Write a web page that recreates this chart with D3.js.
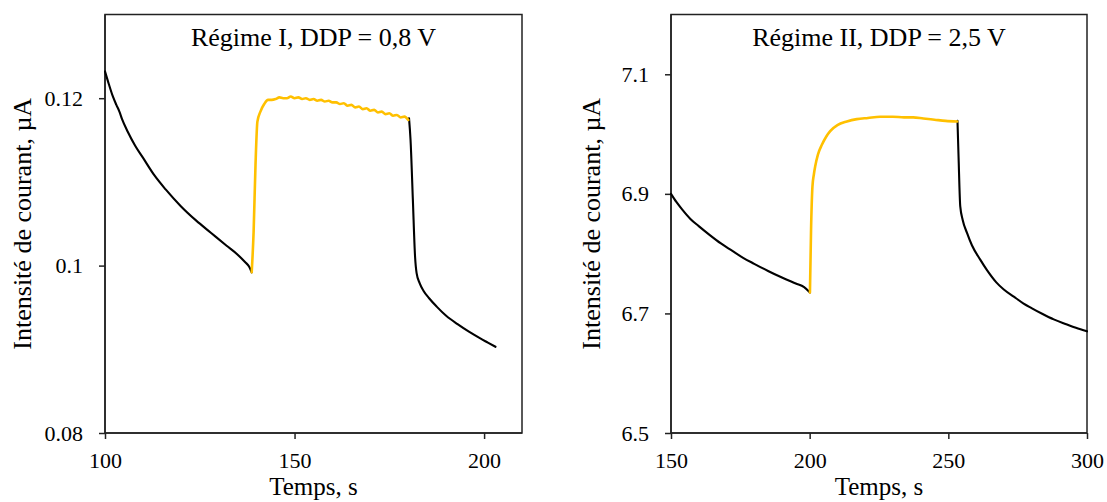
<!DOCTYPE html>
<html>
<head>
<meta charset="utf-8">
<script src="https://cdn.jsdelivr.net/npm/d3@7"></script>
<style>
  html, body { margin: 0; padding: 0; background: #fff; }
  svg { display: block; }
</style>
</head>
<body>
<svg id="chart" width="1107" height="502"></svg>
<script>
// ---------- Data ----------
// Panel 1 : Régime I, DDP = 0,8 V
const p1Title = "Régime I, DDP = 0,8 V";
const p1XTicks = [100, 150, 200];
const p1YTicks = [0.08, 0.1, 0.12];
const p1YLabels = ["0.08", "0.1", "0.12"];
const p1BlackA = [
  [100, 0.1232], [101, 0.1217], [102, 0.1203], [103, 0.1192], [103.8, 0.1184],
  [104.5, 0.1175], [106, 0.1160], [108, 0.1143], [110, 0.1129], [113, 0.1108],
  [116, 0.1091], [120, 0.1071], [124, 0.1054], [128, 0.1039], [132, 0.1024],
  [135, 0.1013], [137, 0.1004], [138, 0.0999], [138.7, 0.0992]
];
const p1Yellow = [
  [138.7, 0.0992], [139.2, 0.1040], [139.7, 0.1120], [140.2, 0.1172], [141, 0.1184],
  [142, 0.1193], [143, 0.1198], [144, 0.1198], [145, 0.1199], [146, 0.1201],
  [147, 0.1200], [148, 0.1200], [149, 0.1202], [150, 0.1200], [151, 0.1201],
  [152, 0.1199], [153, 0.1200], [154, 0.1198], [155, 0.1199], [156, 0.1197],
  [157, 0.1198], [158, 0.1196], [159, 0.1197], [160, 0.1195], [161, 0.1195],
  [162, 0.1193], [163, 0.1194], [164, 0.1191], [165, 0.1192], [166, 0.1189],
  [167, 0.1190], [168, 0.1187], [169, 0.1188], [170, 0.1185], [171, 0.1186],
  [172, 0.1183], [173, 0.1184], [174, 0.1181], [175, 0.1182], [176, 0.1179],
  [177, 0.1180], [178, 0.1177], [179, 0.1178], [180, 0.1174]
];
const p1BlackB = [
  [180.2, 0.1176], [180.6, 0.1150], [181.2, 0.1080], [181.8, 0.1010], [182.2, 0.0991],
  [183, 0.0979], [184, 0.0970], [185.5, 0.0961], [187.5, 0.0951], [190, 0.0940],
  [193, 0.0930], [196, 0.0921], [199, 0.0913], [201, 0.0908], [203, 0.0903]
];

// Panel 2 : Régime II, DDP = 2,5 V
const p2Title = "Régime II, DDP = 2,5 V";
const p2XTicks = [150, 200, 250, 300];
const p2YTicks = [6.5, 6.7, 6.9, 7.1];
const p2YLabels = ["6.5", "6.7", "6.9", "7.1"];
const p2BlackA = [
  [150, 6.900], [152, 6.886], [154, 6.874], [157, 6.858], [160, 6.846],
  [164, 6.831], [168, 6.817], [172, 6.805], [176, 6.793], [180, 6.783],
  [185, 6.771], [190, 6.760], [195, 6.750], [198, 6.744], [200.1, 6.735]
];
const p2Yellow = [
  [200.1, 6.735], [200.5, 6.840], [201, 6.912], [201.5, 6.932], [202, 6.946],
  [203, 6.966], [204.4, 6.982], [206, 6.996], [207.4, 7.005], [210, 7.015],
  [213.4, 7.021], [217, 7.025], [221, 7.027], [225.4, 7.029], [230, 7.029],
  [234, 7.028], [237.3, 7.028], [241, 7.026], [245, 7.024], [249, 7.022],
  [253.2, 7.021]
];
const p2BlackB = [
  [253.3, 7.022], [253.7, 6.960], [254.3, 6.879], [255.2, 6.856], [256.7, 6.835],
  [258.5, 6.814], [261.5, 6.790], [264, 6.772], [267.3, 6.752], [270, 6.740],
  [273.6, 6.728], [277, 6.717], [280, 6.709], [284, 6.699], [288, 6.690],
  [292.5, 6.682], [296, 6.676], [300, 6.670]
];

const xLabel = "Temps, s";
const yLabel = "Intensité de courant, µA";
const SERIF = "Liberation Serif, Times New Roman, Times, DejaVu Serif, serif";

// ---------- Layout ----------
const svg = d3.select("#chart").attr("font-family", SERIF);
const panels = [
  { title: p1Title, xDomain: [100, 210], yDomain: [0.08, 0.13], xTicks: p1XTicks,
    yTicks: p1YTicks, yLabels: p1YLabels, black: [p1BlackA, p1BlackB], yellow: p1Yellow,
    left: 105, right: 522, top: 14.5, bottom: 433, yTitleX: 31 },
  { title: p2Title, xDomain: [150, 300], yDomain: [6.5, 7.2], xTicks: p2XTicks,
    yTicks: p2YTicks, yLabels: p2YLabels, black: [p2BlackA, p2BlackB], yellow: p2Yellow,
    left: 671, right: 1087, top: 14.5, bottom: 433, yTitleX: 600 }
];

panels.forEach(p => {
  const x = d3.scaleLinear().domain(p.xDomain).range([p.left, p.right]);
  const y = d3.scaleLinear().domain(p.yDomain).range([p.bottom, p.top]);
  const g = svg.append("g");

  // frame
  g.append("rect")
    .attr("x", p.left).attr("y", p.top)
    .attr("width", p.right - p.left).attr("height", p.bottom - p.top)
    .attr("fill", "none").attr("stroke", "#222").attr("stroke-width", 1.5);

  // axes
  const xAxis = d3.axisBottom(x).tickValues(p.xTicks).tickSize(6).tickPadding(13)
    .tickFormat(d3.format("d"));
  const yAxis = d3.axisLeft(y).tickValues(p.yTicks).tickSize(6).tickPadding(16)
    .tickFormat((d, i) => p.yLabels[i]);

  const gx = g.append("g").attr("transform", `translate(0,${p.bottom})`).call(xAxis);
  const gy = g.append("g").attr("transform", `translate(${p.left},0)`).call(yAxis);
  [gx, gy].forEach(a => {
    a.attr("font-family", SERIF).attr("font-size", 22);
    a.select(".domain").attr("stroke", "#222").attr("stroke-width", 1.5);
    a.selectAll(".tick line").attr("stroke", "#222").attr("stroke-width", 1.5);
    a.selectAll(".tick text").attr("font-family", SERIF).attr("font-size", 22).attr("fill", "#000");
  });
  gx.select(".domain").attr("d", `M${p.left},0H${p.right}`);
  gy.select(".domain").attr("d", `M0,${p.bottom}V${p.top}`);

  // lines
  const line = d3.line().x(d => x(d[0])).y(d => y(d[1])).curve(d3.curveMonotoneX);
  p.black.forEach(s => {
    g.append("path").datum(s).attr("d", line)
      .attr("fill", "none").attr("stroke", "#000").attr("stroke-width", 2.1)
      .attr("stroke-linejoin", "round").attr("stroke-linecap", "round");
  });
  g.append("path").datum(p.yellow).attr("d", line)
    .attr("fill", "none").attr("stroke", "#FFC000").attr("stroke-width", 2.6)
    .attr("stroke-linejoin", "round").attr("stroke-linecap", "round");

  // title
  g.append("text")
    .attr("x", (p.left + p.right) / 2).attr("y", 46)
    .attr("text-anchor", "middle").attr("font-family", SERIF).attr("font-size", 26)
    .attr("fill", "#000").text(p.title);

  // axis labels
  g.append("text")
    .attr("x", (p.left + p.right) / 2).attr("y", 495)
    .attr("text-anchor", "middle").attr("font-family", SERIF).attr("font-size", 25)
    .attr("fill", "#000").text(xLabel);
  g.append("text")
    .attr("transform", `translate(${p.yTitleX},${(p.top + p.bottom) / 2}) rotate(-90)`)
    .attr("text-anchor", "middle").attr("font-family", SERIF).attr("font-size", 26)
    .attr("fill", "#000").text(yLabel);
});
</script>
</body>
</html>
